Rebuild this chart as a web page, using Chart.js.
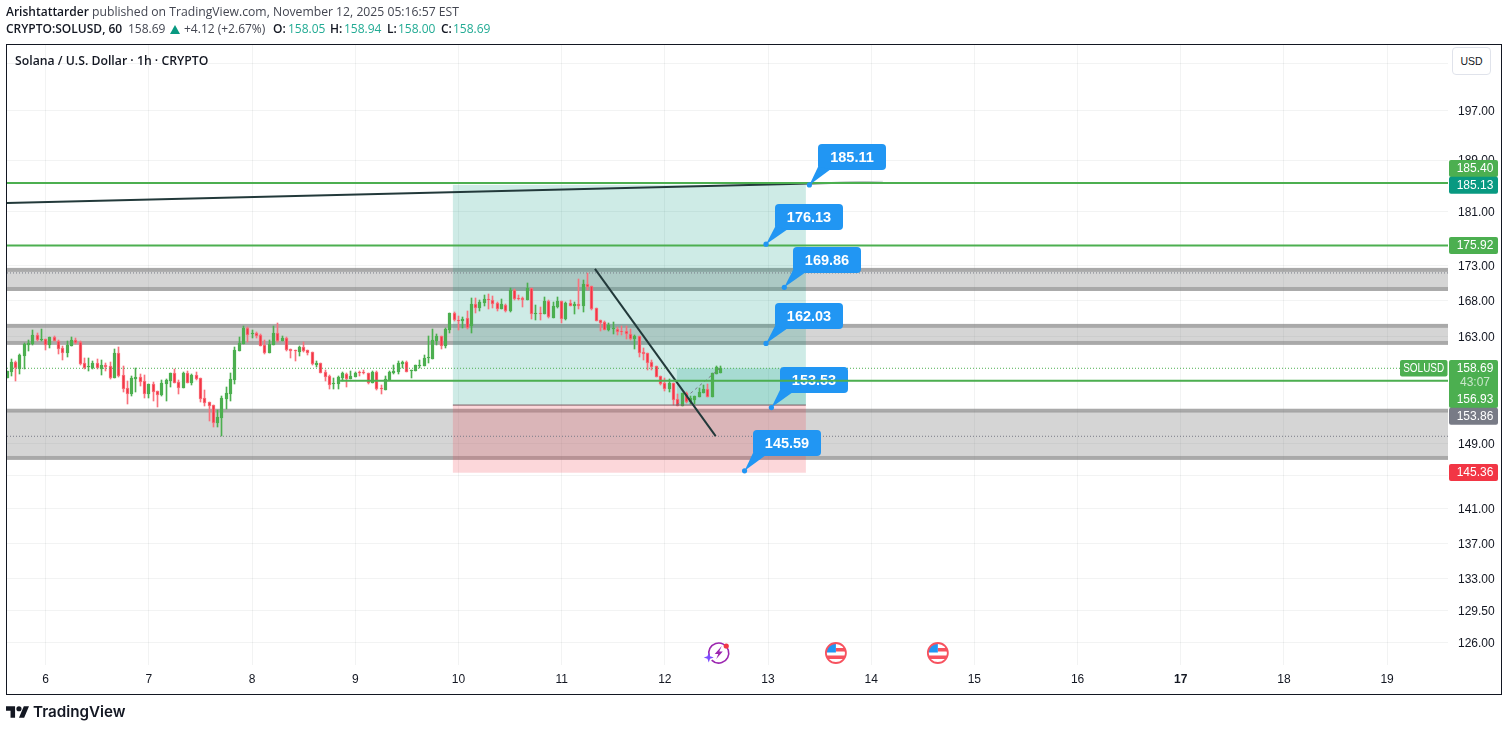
<!DOCTYPE html>
<html><head><meta charset="utf-8">
<style>
html,body{margin:0;padding:0;background:#fff;width:1509px;height:731px;overflow:hidden}
#c{position:absolute;left:0;top:0}
.t{position:absolute;white-space:nowrap;font-family:"Open Sans",sans-serif;font-size:12.2px;line-height:16px;color:#434651}
.b{font-weight:600;color:#131722;font-size:12px}
.v{color:#22ab94;font-size:12px}
.n{font-size:12px}
</style></head><body>
<canvas id="c" width="1509" height="731"></canvas>
<div class="t b" style="left:6px;top:4px">Arishtattarder</div>
<div class="t" style="left:92px;top:4px">published on TradingView.com, November 12, 2025 05:16:57 EST</div>
<div class="t b" style="left:6px;top:21px">CRYPTO:SOLUSD, 60</div>
<div class="t n" style="left:128px;top:21px">158.69</div>
<svg style="position:absolute;left:170px;top:25px" width="10" height="9"><path fill="#089981" d="M5 0L10 9H0z"/></svg>
<div class="t n" style="left:184px;top:21px">+4.12 (+2.67%)</div>
<div class="t b" style="left:273px;top:21px">O:</div><div class="t v" style="left:288px;top:21px">158.05</div>
<div class="t b" style="left:330px;top:21px">H:</div><div class="t v" style="left:344px;top:21px">158.94</div>
<div class="t b" style="left:387px;top:21px">L:</div><div class="t v" style="left:398px;top:21px">158.00</div>
<div class="t b" style="left:441px;top:21px">C:</div><div class="t v" style="left:453px;top:21px">158.69</div>
<div class="t" style="left:15px;top:53px;font-weight:600;color:#131722;font-size:12.25px">Solana / U.S. Dollar · 1h · CRYPTO</div>
<div style="position:absolute;left:1452px;top:47px;width:37px;height:26px;border:1px solid #e0e3eb;border-radius:4px;background:#fff;font:10.5px/26px 'Liberation Sans',sans-serif;color:#131722;text-align:center">USD</div>
<svg style="position:absolute;left:6px;top:706px" width="23" height="12" viewBox="0 4 35.5 18"><path fill="#131722" d="M14 22H7V11H0V4h14v18zM28 22h-8l7.5-18h8L28 22z"/><circle fill="#131722" cx="20" cy="8" r="4"/></svg>
<div class="t" style="left:33px;top:702px;font:600 15.2px/20px Inter,sans-serif;color:#131722">TradingView</div>
<script src="https://cdn.jsdelivr.net/npm/chart.js@4/dist/chart.umd.min.js"></script>
<script>
// ---- data ----
const firstHour = -9; // hours relative to day 6, first visible candle
const opens = [
157.45,158.25,159.54,158.61,160.35,161.84,161.97,163.2,162.47,162.61,
161.84,162.93,162.38,161.43,160.75,161.7,162.52,162.24,159.37,158.88,
158.78,159.37,158.65,159.14,159.01,157.41,160.75,157.81,156.06,155.32,
157.28,157.55,157.02,155.32,156.62,155.67,155.19,156.62,157.02,158.08,
156.89,156.1,158.08,156.76,157.81,157.41,154.8,154.28,153.9,151.6,
152.23,154.67,155.32,157.15,161.02,
161.97,164.16,163.34,163.48,163.2,161.84,160.75,161.84,163.48,162.38,
162.79,161.3,161.12,160.89,161.57,161.16,160.89,159.18,159.37,158.21,
157.68,156.62,156.62,157.41,157.95,157.28,157.55,158.21,158.21,158.04,
156.76,158.21,156.1,155.84,157.15,158.08,158.21,159.28,159.54,158.34,
158.34,159.01,159.01,160.08,159.95,162.38,163.06,161.7,163.89,166.24,
165.27,165.17,165.55,164.44,167.51,166.95,167.65,168.25,168.07,167.65,
166.81,167.37,166.52,169.48,168.35,168.35,168.07,169.77,166.1,166.24,
166.1,167.93,165.55,167.09,167.93,165.41,167.65,167.23,167.51,167.23,
170.34,170.05,166.95,165.27,164.99,163.89,
164.02,164.02,163.75,163.75,163.34,162.65,163.06,160.89,160.75,159.54,
159.01,157.68,156.76,155.97,156.76,154.67,153.77,155.45,154.28,154.54,
154.93,155.45,155.97,154.93,157.95,158.05];
const highs = [
158.39,159.9,159.68,160.62,162.15,162.52,163.89,163.52,164.02,162.65,
162.93,163.06,162.52,161.7,162.38,162.93,162.79,162.38,160.08,160.08,
159.68,159.95,159.81,159.41,159.5,161.3,161.57,159.01,157.02,157.68,
158.74,157.95,157.81,156.62,156.89,155.67,157.15,157.28,158.08,158.61,
157.15,158.21,158.34,157.95,158.21,157.41,155.84,154.28,153.9,153.25,
155.06,156.23,158.08,161.57,162.93,
164.44,164.3,163.89,163.61,163.34,162.52,162.52,164.44,164.85,163.06,
162.93,161.3,161.12,161.7,162.24,161.16,160.89,159.68,159.45,158.48,
157.81,157.41,157.68,158.21,158.08,158.34,158.21,158.34,158.48,158.08,
158.34,158.34,156.49,157.68,158.34,159.14,159.68,159.68,159.68,158.48,
159.14,159.81,160.48,163.06,164.02,163.34,163.06,164.16,166.24,166.38,
165.82,165.68,166.52,168.35,168.35,168.07,168.77,168.91,168.63,167.79,
168.21,167.51,169.77,169.62,168.77,168.49,170.48,169.77,167.37,167.09,
168.49,168.07,167.79,168.49,167.93,167.79,168.07,167.79,171.05,170.91,
171.92,170.05,166.95,165.27,165.13,164.85,
164.99,164.3,164.44,164.44,164.02,163.2,163.06,161.43,160.75,159.81,
159.01,157.68,157.41,157.28,156.76,155.32,155.45,155.58,155.06,155.06,
156.1,156.49,156.62,158.08,159.01,158.94];
const lows = [
157.45,157.68,157.02,157.95,158.61,161.06,161.84,162.3,162.3,161.16,
161.47,162.3,160.62,159.81,160.25,161.7,161.93,159.14,158.65,158.34,
158.61,158.61,157.81,158.34,157.28,157.41,157.55,155.58,154.02,155.06,
155.58,156.36,154.8,154.8,154.41,153.64,155.06,154.41,156.23,156.76,
155.32,156.1,156.76,156.49,157.15,154.28,153.77,151.85,151.06,151.1,
149.97,153.38,154.41,156.62,161.02,
161.97,162.24,162.79,162.79,161.7,160.62,160.75,161.84,162.24,162.38,
161.02,160.08,159.68,160.35,160.89,160.48,159.14,158.88,158.08,157.02,
155.93,155.97,156.01,157.02,156.23,157.28,157.55,157.68,157.95,156.62,
156.76,155.84,155.32,155.84,157.15,157.95,157.95,158.74,158.21,157.41,
158.34,158.74,159.01,159.41,159.95,161.84,161.3,161.43,163.48,165.13,
163.89,164.16,164.02,163.48,166.24,166.52,167.23,166.81,166.95,166.52,
166.81,166.38,166.38,168.07,168.07,167.09,168.07,165.41,165.27,165.27,
166.1,165.55,165.55,166.95,164.85,165.27,167.23,166.1,166.81,166.38,
169.48,166.67,165.13,163.75,163.89,163.75,
163.34,163.2,163.2,162.65,162.52,161.3,160.21,159.81,158.48,158.48,
157.55,156.49,155.71,155.58,153.9,153.77,153.77,154.15,154.02,154.02,
154.93,155.45,154.93,154.93,157.95,158.0];
const closes = [
158.39,159.54,158.7,160.48,161.97,162.15,163.2,162.52,162.61,161.88,
162.93,162.34,161.34,160.79,161.84,162.52,162.15,159.28,158.74,159.01,
159.37,158.74,159.14,158.88,157.41,160.75,157.64,156.01,155.32,157.41,
157.55,156.89,155.32,156.62,155.58,155.19,156.76,157.15,158.08,156.76,
156.1,158.08,156.76,157.81,157.28,154.67,154.15,153.77,151.6,152.36,
154.8,155.45,157.28,161.16,162.11,
164.16,163.2,163.48,163.06,161.74,160.75,161.97,163.48,162.38,162.79,
161.16,161.02,160.98,161.57,161.02,160.75,159.28,159.37,158.12,157.55,
156.49,156.72,157.55,158.08,157.28,157.68,158.08,158.08,158.08,156.76,
158.21,155.97,155.93,157.28,158.21,158.34,159.41,159.54,158.21,158.48,
159.14,159.14,160.08,160.21,162.52,163.06,161.7,164.02,166.24,165.27,
165.13,165.41,164.16,167.51,166.95,167.79,168.21,168.07,167.51,166.81,
167.51,166.52,169.48,168.21,168.21,168.07,169.77,166.1,166.24,166.1,
167.93,165.68,167.23,167.93,165.41,167.65,167.23,167.51,167.23,170.34,
169.91,166.81,165.13,164.85,163.89,164.57,
164.16,163.61,163.61,163.34,162.65,163.06,160.75,160.62,159.41,158.88,
157.55,156.62,155.97,156.76,154.54,153.77,155.45,154.28,154.8,155.06,
155.58,155.97,154.93,158.08,158.88,158.69];

const dayTicks = [6,7,8,9,10,11,12,13,14,15,16,17,18,19];
const priceTicks = [205,197,189,181,173,168,163,157,153,149,145,141,137,133,129.5,126];
const hiddenPriceTicks = [205];
const zoneTop = [172.36,164.44,153.13];
const zoneBottom = [169.62,162.11,147.18];
const positionDays = [9.946,13.367];
const positionEntryDay = 12.117;
const targetPrice = 185.13, entryPrice = 153.86, stopPrice = 145.36, lastPrice = 158.69;
const levelLines = [185.40,175.92];
const sideLinePrice = 157.03, sideLineStartDay = 8.853;
const dottedGrey = [171.92,149.88];
const trendA = {days:[5.625,14.113],prices:[182.34,185.59]};
const trendB = {days:[11.323,12.493],prices:[172.5,149.9]};
const calloutDays = [13.401,12.981,13.158,12.981,13.033,12.773];
const calloutPrices = [185.11,176.13,169.86,162.03,153.53,145.59];
const eventDays = [12.513,13.658,14.646];

const minDay = 5.625, maxDay = 19.59, minPrice = 123.68, maxPrice = 208.2;
const GREEN='#4caf50', RED='#f23645', DARK='#22393a';

const hours = opens.map((_,i)=>6+(firstHour+i)/24);
const isUp = opens.map((o,i)=>closes[i]>=o);
const wicks = hours.map((x,i)=>({x,y:[lows[i],highs[i]]}));
const bodies = hours.map((x,i)=>({x,y:[opens[i],closes[i]]}));
const hline=(p,a=minDay,b=maxDay)=>[{x:a,y:p},{x:b,y:p}];
const seg=t=>[{x:t.days[0],y:t.prices[0]},{x:t.days[1],y:t.prices[1]}];

function trendAColor(c){
  const a=c.chart.chartArea; if(!a) return DARK;
  const xs=c.chart.scales.x;
  const g=c.chart.ctx.createLinearGradient(xs.getPixelForValue(trendA.days[0]),0,xs.getPixelForValue(trendA.days[1]),0);
  g.addColorStop(0,DARK);g.addColorStop(0.915,DARK);g.addColorStop(1,'rgba(34,57,58,0.15)');
  return g;
}

function roundRect(ctx,x,y,w,h,r){ctx.beginPath();ctx.roundRect(x,y,w,h,r);}

const overlay={
  id:'overlay',
  beforeDatasetsDraw(chart){
    const {ctx,chartArea:a,scales:{x,y}}=chart;
    ctx.save();
    ctx.beginPath();ctx.rect(a.left,a.top,a.width,a.height);ctx.clip();
    zoneTop.forEach((t,i)=>{
      const yt=y.getPixelForValue(t),yb=y.getPixelForValue(zoneBottom[i]);
      ctx.fillStyle='rgba(128,128,128,0.33)';
      ctx.fillRect(a.left,yt+2,a.width,yb-yt-4);
      ctx.fillStyle='rgba(128,128,128,0.68)';
      ctx.fillRect(a.left,yt-2,a.width,4);
      ctx.fillRect(a.left,yb-2,a.width,4);
    });
    const x0=x.getPixelForValue(positionDays[0]),x1=x.getPixelForValue(positionDays[1]);
    const yT=y.getPixelForValue(targetPrice),yE=y.getPixelForValue(entryPrice),yS=y.getPixelForValue(stopPrice),yL=y.getPixelForValue(lastPrice);
    ctx.fillStyle='rgba(8,153,129,0.2)';
    ctx.fillRect(x0,yT,x1-x0,yE-yT);
    const xe=x.getPixelForValue(positionEntryDay);
    ctx.fillRect(xe,yL,x1-xe,yE-yL);
    ctx.fillStyle='rgba(242,54,69,0.2)';
    ctx.fillRect(x0,yE,x1-x0,yS-yE);
    ctx.restore();
  },
  beforeDatasetDraw(chart,args){
    const ds=chart.data.datasets[args.index];
    if(ds.snap){
      for(const el of args.meta.data){
        el.x=Math.floor(el.x)+0.5;
        el.y=Math.round(el.y);el.base=Math.round(el.base);
        if(el.y===el.base) el.base=el.y+1;
      }
    }
    if(ds.calloutsBelow) drawCallouts(chart);
  },
  afterDraw(chart){
    const {ctx}=chart;
    drawEvents(chart);
    const bx=1449,bw=49,tx=1475;
    const F='12px "Liberation Sans",sans-serif';
    const badge=(cy,h,col,txt)=>{
      ctx.fillStyle=col;roundRect(ctx,bx,cy-h/2,bw,h,2);ctx.fill();
      ctx.fillStyle='#fff';ctx.font=F;
      ctx.textAlign='center';ctx.textBaseline='middle';ctx.fillText(txt,tx,cy+0.5);
    };
    badge(168.5,17,GREEN,levelLines[0].toFixed(2));
    badge(185.3,17,'#089981',targetPrice.toFixed(2));
    badge(245.5,17,GREEN,levelLines[1].toFixed(2));
    ctx.fillStyle=GREEN;roundRect(ctx,bx,360,bw,48,2);ctx.fill();
    ctx.fillStyle='#fff';ctx.font=F;ctx.textAlign='center';ctx.textBaseline='middle';
    ctx.fillText(lastPrice.toFixed(2),tx,369);
    ctx.fillStyle='#c9e7ca';ctx.fillText('43:07',tx,382.5);
    ctx.fillStyle='#fff';ctx.fillText('156.93',tx,399.5);
    badge(416.3,17,'#787b86',entryPrice.toFixed(2));
    badge(472.5,17,RED,stopPrice.toFixed(2));
    ctx.fillStyle=GREEN;roundRect(ctx,1400,360,47.5,16.5,2);ctx.fill();
    ctx.fillStyle='#fff';ctx.font=F;ctx.textAlign='center';ctx.fillText('SOLUSD',1423.7,368.7,41);
    ctx.strokeStyle='#131722';ctx.lineWidth=1;ctx.strokeRect(6.5,44.5,1495,650);
  }
};

function drawCallouts(chart){
  const {ctx,scales:{x,y}}=chart;
  ctx.save();
  calloutDays.forEach((d,i)=>{
    const ax=x.getPixelForValue(d),ay=y.getPixelForValue(calloutPrices[i]);
    const bx=Math.round(ax+8.7),by=Math.round(ay-40.5),w=68,h=26;
    ctx.fillStyle='#2196f3';
    roundRect(ctx,bx,by,w,h,4);ctx.fill();
    ctx.beginPath();ctx.moveTo(ax,ay);ctx.lineTo(bx,by+h-3);ctx.lineTo(bx+13,by+h-1);ctx.closePath();ctx.fill();
    ctx.beginPath();ctx.arc(ax,ay,2.6,0,Math.PI*2);ctx.fill();
    ctx.fillStyle='#fff';ctx.font='bold 14.5px "Liberation Sans",sans-serif';ctx.textAlign='center';ctx.textBaseline='middle';
    ctx.fillText(calloutPrices[i].toFixed(2),bx+w/2,by+h/2+0.5);
  });
  ctx.restore();
}

function drawEvents(chart){
  const {ctx,scales:{x}}=chart;
  const cy=653;
  let cx=x.getPixelForValue(eventDays[0])+1;
  ctx.save();
  ctx.strokeStyle='#9c27b0';ctx.lineWidth=1.6;
  ctx.beginPath();ctx.arc(cx,cy,10,-1.1*Math.PI,0.75*Math.PI);ctx.stroke();
  ctx.fillStyle='#9c27b0';
  ctx.beginPath();ctx.moveTo(cx+3,cy-7);ctx.lineTo(cx-4,cy+1);ctx.lineTo(cx-0.5,cy+1);ctx.lineTo(cx-2.5,cy+6);ctx.lineTo(cx+4,cy-1.5);ctx.lineTo(cx+0.5,cy-1.5);ctx.closePath();ctx.fill();
  ctx.fillStyle='#7c4dff';
  const sx=cx-10,sy=cy+4.5;
  ctx.beginPath();ctx.moveTo(sx,sy-5);ctx.lineTo(sx+1.3,sy-1.3);ctx.lineTo(sx+5,sy);ctx.lineTo(sx+1.3,sy+1.3);ctx.lineTo(sx,sy+5);ctx.lineTo(sx-1.3,sy+1.3);ctx.lineTo(sx-5,sy);ctx.lineTo(sx-1.3,sy-1.3);ctx.closePath();ctx.fill();
  ctx.fillStyle='#f23645';ctx.beginPath();ctx.arc(cx+7.5,cy-7,2.6,0,Math.PI*2);ctx.fill();
  for(const d of eventDays.slice(1)){
    const fx=x.getPixelForValue(d);
    ctx.save();
    ctx.beginPath();ctx.arc(fx,cy,10,0,Math.PI*2);ctx.fillStyle='#fff';ctx.fill();
    ctx.clip();
    ctx.fillStyle='#f7525f';
    ctx.fillRect(fx,cy-5,11,3.5);ctx.fillRect(fx-11,cy+2.5,22,3.5);
    ctx.fillStyle='#2196f3';ctx.fillRect(fx-9,cy-9,9,8.5);
    ctx.restore();
    ctx.strokeStyle='#f7525f';ctx.lineWidth=1.8;ctx.beginPath();ctx.arc(fx,cy,10,0,Math.PI*2);ctx.stroke();
  }
  ctx.restore();
}

const lineDs=(data,extra)=>Object.assign({type:'line',data,borderColor:GREEN,borderWidth:2,pointRadius:0,tension:0,fill:false,order:2},extra);

new Chart(document.getElementById('c'),{
  type:'bar',
  data:{datasets:[
    {data:wicks,barThickness:1,grouped:false,order:6,snap:true,borderWidth:0,
     backgroundColor:isUp.map(u=>u?GREEN:'#f9717c')},
    {data:bodies,barThickness:3,grouped:false,order:5,snap:true,minBarLength:1,borderSkipped:false,borderWidth:1,
     backgroundColor:isUp.map(u=>u?GREEN:RED),borderColor:isUp.map(u=>u?GREEN:'#f9717c')},
    lineDs(hline(lastPrice,minDay,19.14),{borderColor:GREEN,borderWidth:1,borderDash:[1,2],order:4}),
    lineDs(hline(dottedGrey[0]),{borderColor:'#787b86',borderWidth:1,borderDash:[1,2],order:4}),
    lineDs(hline(dottedGrey[1]),{borderColor:'#787b86',borderWidth:1,borderDash:[1,2],order:4}),
    lineDs(hline(entryPrice,positionDays[0],positionDays[1]),{borderColor:'#7a5a62',borderWidth:1,order:4}),
    lineDs([{x:positionEntryDay,y:entryPrice},{x:12.533,y:lastPrice}],{borderColor:'#787b86',borderWidth:1,borderDash:[3,3],order:4}),
    lineDs(seg(trendA),{borderColor:trendAColor,borderWidth:2,order:3}),
    lineDs(seg(trendB),{borderColor:DARK,borderWidth:2,order:3}),
    lineDs(hline(levelLines[0]),{order:2}),
    lineDs(hline(levelLines[1]),{order:2}),
    lineDs(hline(sideLinePrice,sideLineStartDay),{order:1,calloutsBelow:true})
  ]},
  options:{
    responsive:false,animation:false,
    layout:{padding:{left:7,right:7,top:45,bottom:37}},
    plugins:{legend:{display:false},tooltip:{enabled:false}},
    scales:{
      x:{type:'linear',min:minDay,max:maxDay,offset:false,
        afterFit(s){s.height=29},
        afterBuildTicks(s){s.ticks=dayTicks.map(value=>({value}))},
        grid:{color:'rgba(42,46,57,0.06)',offset:false,drawTicks:false},
        border:{display:false},
        ticks:{autoSkip:false,maxRotation:0,padding:7,color:'#131722',
          font:c=>({family:'"Liberation Sans",sans-serif',size:12,weight:c.tick&&c.tick.value===17?'bold':'normal'}),
          callback:v=>String(v)}
      },
      y:{type:'logarithmic',position:'right',min:minPrice,max:maxPrice,
        afterFit(s){s.width=54},
        afterBuildTicks(s){s.ticks=priceTicks.map(value=>({value}))},
        grid:{color:'rgba(42,46,57,0.06)',drawTicks:false},
        border:{display:false},
        ticks:{autoSkip:false,padding:10,labelOffset:1,color:'#131722',crossAlign:'near',
          font:{family:'"Liberation Sans",sans-serif',size:12},
          callback:v=>hiddenPriceTicks.includes(Number(v))?'':Number(v).toFixed(2)}
      }
    }
  },
  plugins:[overlay]
});
</script>
</body></html>
